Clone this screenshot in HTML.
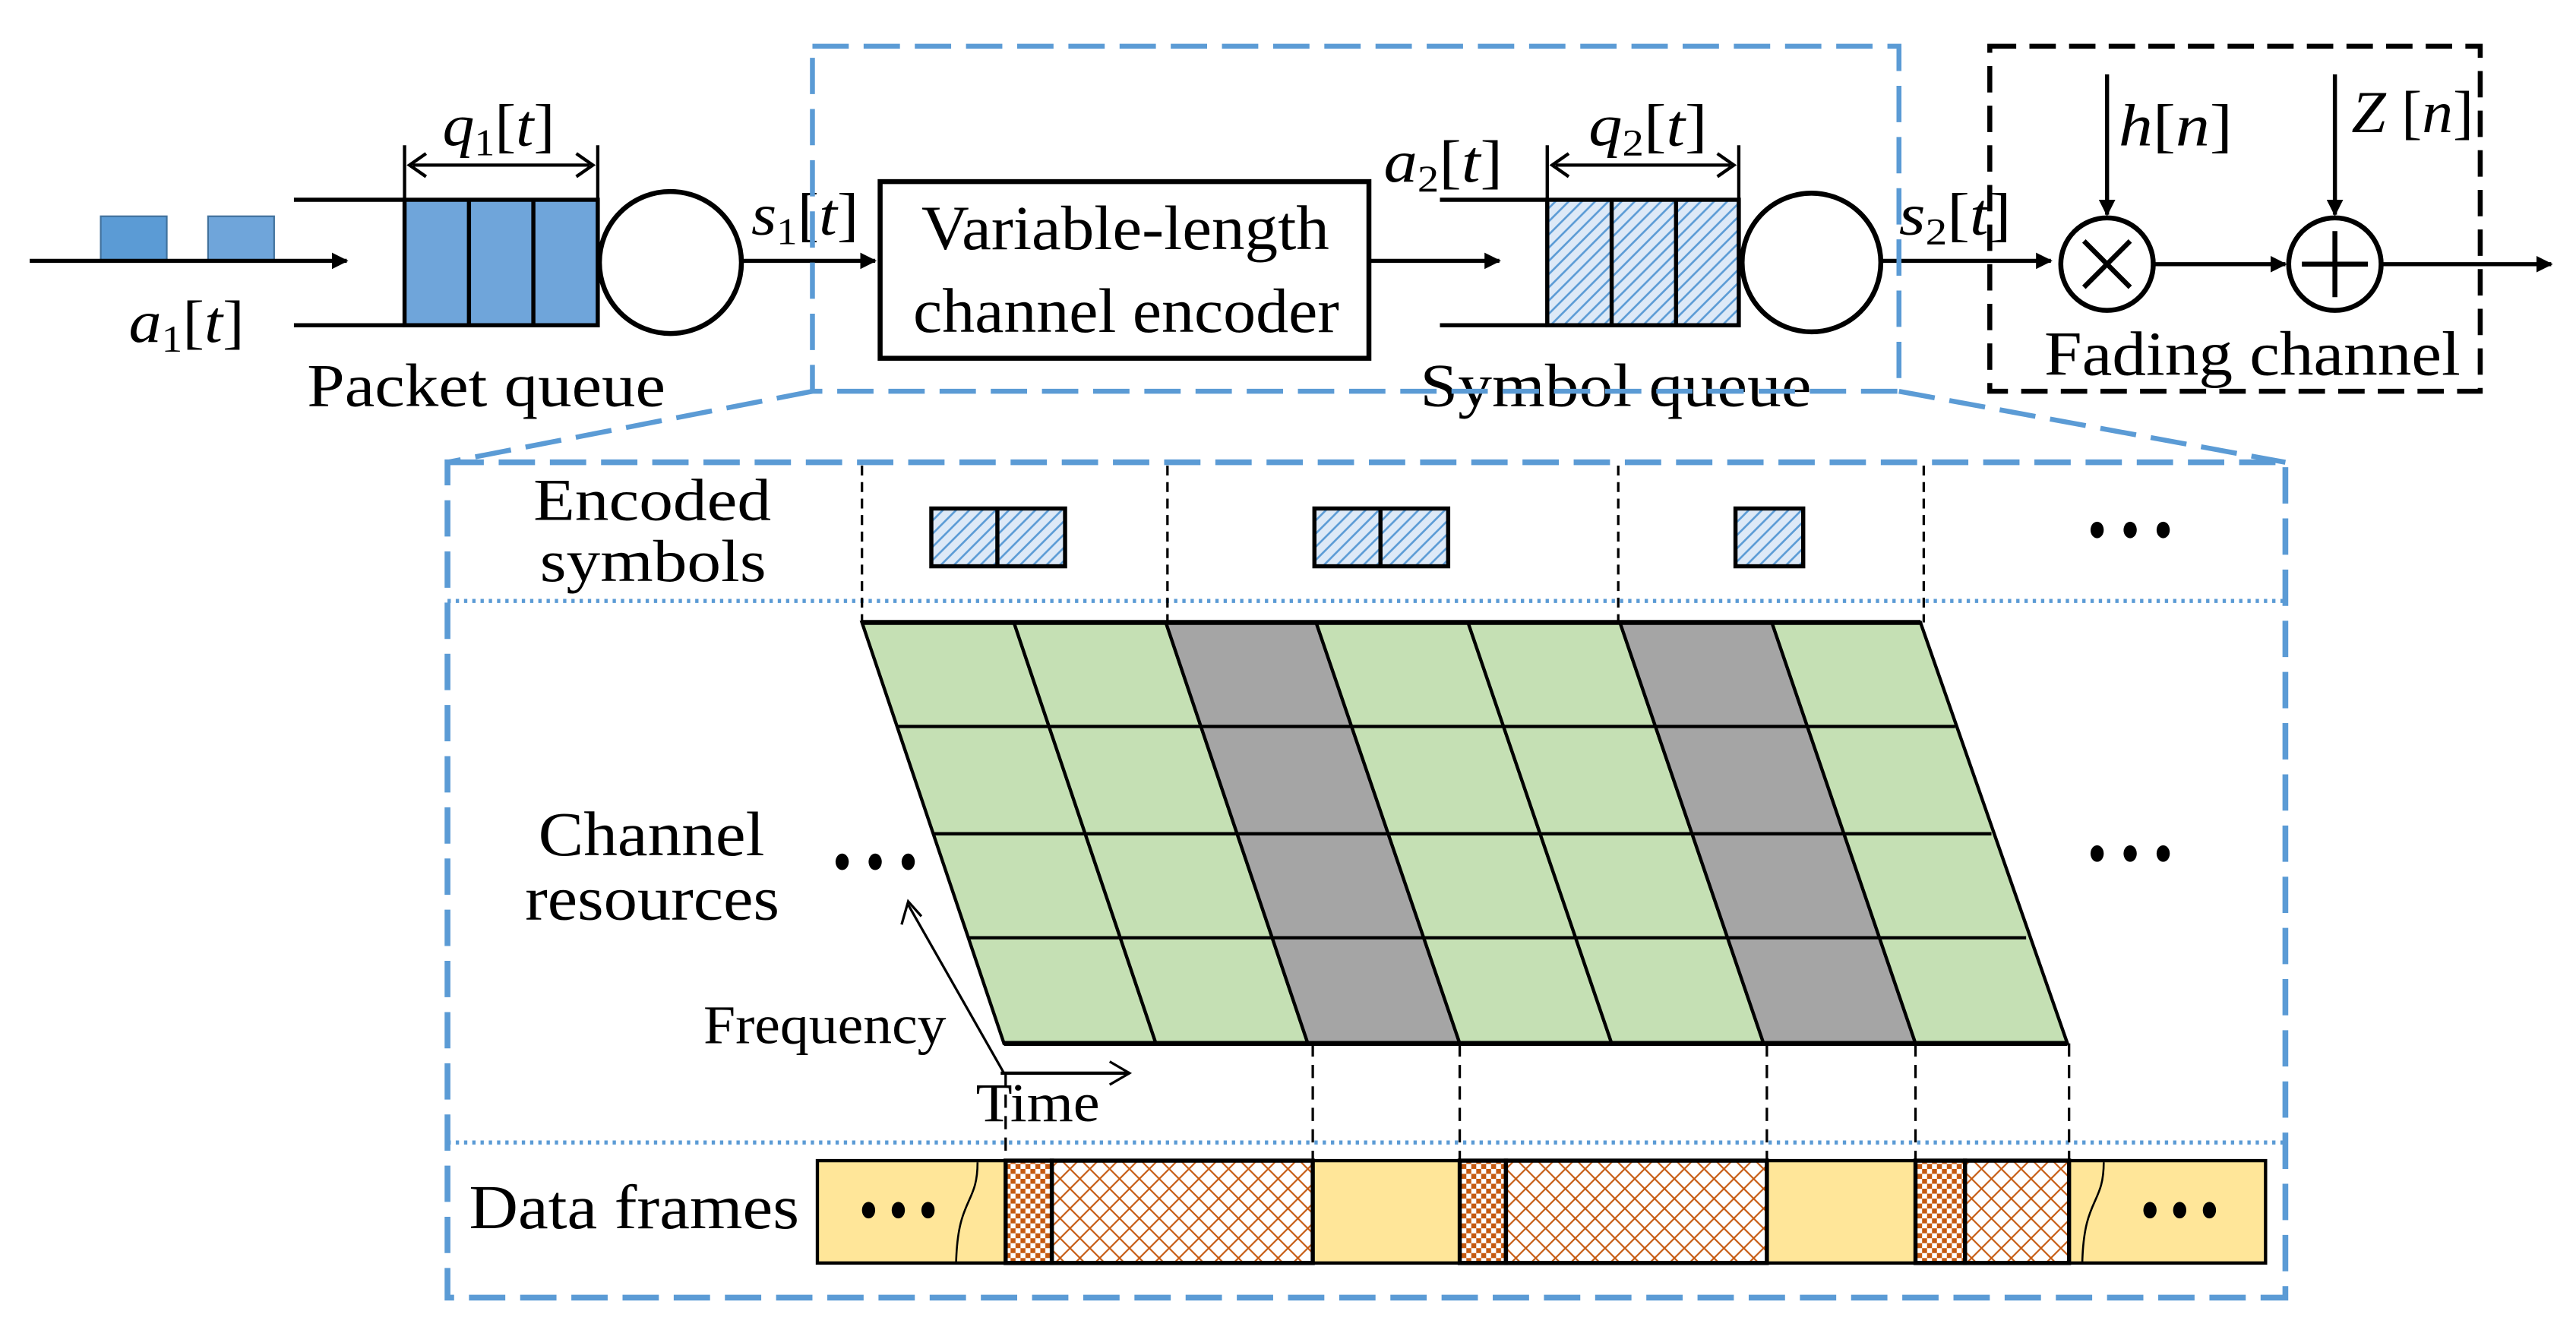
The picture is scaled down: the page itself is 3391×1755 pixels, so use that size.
<!DOCTYPE html>
<html><head><meta charset="utf-8"><style>html,body{margin:0;padding:0;background:#fff}svg{display:block}</style></head><body>
<svg width="3391" height="1755" viewBox="0 0 1560 807.4" preserveAspectRatio="none" xmlns="http://www.w3.org/2000/svg" font-family="Liberation Serif, serif">
<defs>
<pattern id="diag" width="8" height="8" patternUnits="userSpaceOnUse"><rect width="8" height="8" fill="#dde9f7"/><path d="M-2,10 L10,-2 M-2,2 L2,-2 M6,10 L10,6" stroke="#5b9bd5" stroke-width="1.2"/></pattern>
<pattern id="chk" width="6" height="6" patternUnits="userSpaceOnUse"><rect width="6" height="6" fill="#fff"/><rect width="3" height="3" fill="#c55a11"/><rect x="3" y="3" width="3" height="3" fill="#c55a11"/></pattern>
<pattern id="xh" width="12" height="12" patternUnits="userSpaceOnUse"><rect width="12" height="12" fill="#fff"/><path d="M0,0 L12,12 M12,0 L0,12" stroke="#c55a11" stroke-width="1"/></pattern>
<marker id="ar" markerWidth="10" markerHeight="10" refX="9" refY="5" orient="auto" markerUnits="userSpaceOnUse"><path d="M0,0 L10,5 L0,10 z" fill="#000"/></marker>
</defs>
<g>
<rect x="61" y="131" width="40" height="27" fill="#5b9bd5" stroke="#41719c"/>
<rect x="126" y="131" width="40" height="27" fill="#6fa5da" stroke="#41719c"/>
<line x1="18" y1="158" x2="210" y2="158" stroke="#000" stroke-width="2.5" marker-end="url(#ar)"/>
<text x="78" y="207" font-size="36" font-style="italic" textLength="70" lengthAdjust="spacingAndGlyphs">a<tspan font-size="23" dy="6" font-style="normal">1</tspan><tspan dy="-6" font-style="normal">[</tspan>t<tspan font-style="normal">]</tspan></text>
<line x1="178" y1="121" x2="245" y2="121" stroke="#000" stroke-width="2.5"/>
<line x1="178" y1="197" x2="245" y2="197" stroke="#000" stroke-width="2.5"/>
<rect x="245" y="121" width="117" height="76" fill="#6fa5da" stroke="#000" stroke-width="2.5"/>
<line x1="284" y1="121" x2="284" y2="197" stroke="#000" stroke-width="2.5"/>
<line x1="323" y1="121" x2="323" y2="197" stroke="#000" stroke-width="2.5"/>
<line x1="245" y1="88" x2="245" y2="121" stroke="#000" stroke-width="2"/><line x1="362" y1="88" x2="362" y2="121" stroke="#000" stroke-width="2"/>
<line x1="250" y1="100" x2="357" y2="100" stroke="#000" stroke-width="2"/>
<path d="M258,93 L248,100 L258,107 M349,93 L359,100 L349,107" fill="none" stroke="#000" stroke-width="2"/>
<text x="268" y="88" font-size="36" font-style="italic" textLength="68" lengthAdjust="spacingAndGlyphs">q<tspan font-size="23" dy="6" font-style="normal">1</tspan><tspan dy="-6" font-style="normal">[</tspan>t<tspan font-style="normal">]</tspan></text>
<circle cx="406" cy="159" r="43" fill="#fff" stroke="#000" stroke-width="3"/>
<text x="186" y="246" font-size="37" textLength="217" lengthAdjust="spacingAndGlyphs">Packet queue</text>
<text x="455" y="142" font-size="36" font-style="italic" textLength="65" lengthAdjust="spacingAndGlyphs">s<tspan font-size="23" dy="6" font-style="normal">1</tspan><tspan dy="-6" font-style="normal">[</tspan>t<tspan font-style="normal">]</tspan></text>
<line x1="449" y1="158" x2="530" y2="158" stroke="#000" stroke-width="2.5" marker-end="url(#ar)"/>
<rect x="533" y="110" width="296" height="107" fill="#fff" stroke="#000" stroke-width="3"/>
<text x="558" y="151" font-size="38" textLength="247" lengthAdjust="spacingAndGlyphs">Variable-length</text>
<text x="553" y="201" font-size="38" textLength="258" lengthAdjust="spacingAndGlyphs">channel encoder</text>
<line x1="829" y1="158" x2="908" y2="158" stroke="#000" stroke-width="2.5" marker-end="url(#ar)"/>
<text x="838" y="110" font-size="36" font-style="italic" textLength="72" lengthAdjust="spacingAndGlyphs">a<tspan font-size="23" dy="6" font-style="normal">2</tspan><tspan dy="-6" font-style="normal">[</tspan>t<tspan font-style="normal">]</tspan></text>
<line x1="872" y1="121" x2="937" y2="121" stroke="#000" stroke-width="2.5"/>
<line x1="872" y1="197" x2="937" y2="197" stroke="#000" stroke-width="2.5"/>
<rect x="937" y="121" width="116" height="76" fill="url(#diag)" stroke="#000" stroke-width="2.5"/>
<line x1="976" y1="121" x2="976" y2="197" stroke="#000" stroke-width="2.5"/>
<line x1="1015" y1="121" x2="1015" y2="197" stroke="#000" stroke-width="2.5"/>
<line x1="937" y1="88" x2="937" y2="121" stroke="#000" stroke-width="2"/><line x1="1053" y1="88" x2="1053" y2="121" stroke="#000" stroke-width="2"/>
<line x1="942" y1="100" x2="1048" y2="100" stroke="#000" stroke-width="2"/>
<path d="M950,93 L940,100 L950,107 M1040,93 L1050,100 L1040,107" fill="none" stroke="#000" stroke-width="2"/>
<text x="962" y="88" font-size="36" font-style="italic" textLength="72" lengthAdjust="spacingAndGlyphs">q<tspan font-size="23" dy="6" font-style="normal">2</tspan><tspan dy="-6" font-style="normal">[</tspan>t<tspan font-style="normal">]</tspan></text>
<circle cx="1097" cy="159" r="42" fill="#fff" stroke="#000" stroke-width="3"/>
<text x="860" y="246" font-size="37" textLength="237" lengthAdjust="spacingAndGlyphs">Symbol queue</text>
<text x="1150" y="142" font-size="36" font-style="italic" textLength="68" lengthAdjust="spacingAndGlyphs">s<tspan font-size="23" dy="6" font-style="normal">2</tspan><tspan dy="-6" font-style="normal">[</tspan>t<tspan font-style="normal">]</tspan></text>
<line x1="1139" y1="158" x2="1242" y2="158" stroke="#000" stroke-width="2.5" marker-end="url(#ar)"/>
<rect x="1205" y="28" width="297" height="209" fill="none" stroke="#000" stroke-width="3" stroke-dasharray="16,8"/>
<circle cx="1276" cy="160" r="28" fill="#fff" stroke="#000" stroke-width="3"/>
<path d="M1262,146 L1290,174 M1290,146 L1262,174" stroke="#000" stroke-width="3"/>
<circle cx="1414" cy="160" r="28" fill="#fff" stroke="#000" stroke-width="3"/>
<path d="M1414,140 L1414,180 M1394,160 L1434,160" stroke="#000" stroke-width="3"/>
<line x1="1276" y1="45" x2="1276" y2="130" stroke="#000" stroke-width="2.5" marker-end="url(#ar)"/>
<line x1="1414" y1="45" x2="1414" y2="130" stroke="#000" stroke-width="2.5" marker-end="url(#ar)"/>
<line x1="1304" y1="160" x2="1384" y2="160" stroke="#000" stroke-width="2.5" marker-end="url(#ar)"/>
<line x1="1442" y1="160" x2="1545" y2="160" stroke="#000" stroke-width="2.5" marker-end="url(#ar)"/>
<text x="1283" y="88" font-size="36" font-style="italic" textLength="69" lengthAdjust="spacingAndGlyphs">h<tspan font-style="normal">[</tspan>n<tspan font-style="normal">]</tspan></text>
<text x="1424" y="80" font-size="36" font-style="italic" textLength="74" lengthAdjust="spacingAndGlyphs">Z<tspan font-style="normal"> [</tspan>n<tspan font-style="normal">]</tspan></text>
<text x="1238" y="227" font-size="38" textLength="252" lengthAdjust="spacingAndGlyphs">Fading channel</text>
<rect x="492" y="28" width="658" height="209" fill="none" stroke="#5b9bd5" stroke-width="3" stroke-dasharray="22,9"/>
<line x1="492" y1="237" x2="271" y2="280" stroke="#5b9bd5" stroke-width="3" stroke-dasharray="22,9"/>
<line x1="1150" y1="237" x2="1384" y2="280" stroke="#5b9bd5" stroke-width="3" stroke-dasharray="22,9"/>
<rect x="271" y="280" width="1113" height="506" fill="none" stroke="#5b9bd5" stroke-width="3.5" stroke-dasharray="22,9"/>
<line x1="271" y1="364" x2="1384" y2="364" stroke="#5b9bd5" stroke-width="2.5" stroke-dasharray="2,3"/>
<line x1="271" y1="692" x2="1384" y2="692" stroke="#5b9bd5" stroke-width="2.5" stroke-dasharray="2,3"/>
<text x="323" y="315" font-size="36" textLength="144" lengthAdjust="spacingAndGlyphs">Encoded</text>
<text x="327" y="352" font-size="36" textLength="137" lengthAdjust="spacingAndGlyphs">symbols</text>
<g stroke="#000" stroke-width="1.5" stroke-dasharray="6,4">
<line x1="522" y1="282" x2="522" y2="377"/><line x1="707" y1="282" x2="707" y2="377"/><line x1="980" y1="282" x2="980" y2="377"/><line x1="1165" y1="282" x2="1165" y2="377"/>
</g>
<g stroke="#000" stroke-width="2.5">
<rect x="564" y="308" width="81" height="35" fill="url(#diag)"/><line x1="604" y1="308" x2="604" y2="343"/>
<rect x="796" y="308" width="81" height="35" fill="url(#diag)"/><line x1="836" y1="308" x2="836" y2="343"/>
<rect x="1051" y="308" width="41" height="35" fill="url(#diag)"/>
</g>
<g stroke="#000" stroke-width="2">
<polygon points="522,377 614,377 700,632 608,632" fill="#c5e0b4"/>
<polygon points="614,377 706,377 792,632 700,632" fill="#c5e0b4"/>
<polygon points="706,377 797,377 884,632 792,632" fill="#a5a5a5"/>
<polygon points="797,377 889,377 976,632 884,632" fill="#c5e0b4"/>
<polygon points="889,377 981,377 1068,632 976,632" fill="#c5e0b4"/>
<polygon points="981,377 1073,377 1160,632 1068,632" fill="#a5a5a5"/>
<polygon points="1073,377 1163,377 1252,632 1160,632" fill="#c5e0b4"/>
<line x1="543" y1="440" x2="1184" y2="440"/><line x1="565" y1="505" x2="1206" y2="505"/><line x1="586" y1="568" x2="1227" y2="568"/>
<line x1="522" y1="377" x2="1163" y2="377" stroke-width="3"/><line x1="608" y1="632" x2="1252" y2="632" stroke-width="3"/>
</g>
<text x="326" y="518" font-size="38" textLength="137" lengthAdjust="spacingAndGlyphs">Channel</text>
<text x="318" y="557" font-size="38" textLength="154" lengthAdjust="spacingAndGlyphs">resources</text>
<path d="M608,650 L550,548" stroke="#000" stroke-width="1.5" fill="none"/>
<path d="M546,560 L550,546 L558,555" stroke="#000" stroke-width="1.5" fill="none"/>
<path d="M606,650 L684,650" stroke="#000" stroke-width="2" fill="none"/>
<path d="M672,643 L684,650 L672,657" stroke="#000" stroke-width="1.5" fill="none"/>
<text x="426" y="632" font-size="33" textLength="147" lengthAdjust="spacingAndGlyphs">Frequency</text>
<text x="591" y="679" font-size="33" textLength="75" lengthAdjust="spacingAndGlyphs">Time</text>
<g stroke="#000" stroke-width="1.5" stroke-dasharray="8,5">
<line x1="795" y1="632" x2="795" y2="703"/><line x1="884" y1="632" x2="884" y2="703"/><line x1="1070" y1="632" x2="1070" y2="703"/><line x1="1160" y1="632" x2="1160" y2="703"/><line x1="1253" y1="632" x2="1253" y2="703"/><line x1="609" y1="650" x2="609" y2="703"/>
</g>
<text x="284" y="744" font-size="38" textLength="200" lengthAdjust="spacingAndGlyphs">Data frames</text>
<rect x="495" y="703" width="877" height="62" fill="#ffe699" stroke="#000" stroke-width="2"/>
<g stroke="#000" stroke-width="2.5">
<rect x="609" y="703" width="28" height="62" fill="url(#chk)"/><rect x="637" y="703" width="158" height="62" fill="url(#xh)"/>
<rect x="884" y="703" width="28" height="62" fill="url(#chk)"/><rect x="912" y="703" width="158" height="62" fill="url(#xh)"/>
<rect x="1160" y="703" width="30" height="62" fill="url(#chk)"/><rect x="1190" y="703" width="63" height="62" fill="url(#xh)"/>
</g>
<path d="M592,704 C592,730 580,725 579,765" stroke="#000" stroke-width="1.2" fill="none"/>
<path d="M1274,704 C1274,730 1262,725 1261,765" stroke="#000" stroke-width="1.2" fill="none"/>
<g fill="#000">
<ellipse cx="1270" cy="321" rx="4" ry="5"/><ellipse cx="1290" cy="321" rx="4" ry="5"/><ellipse cx="1310" cy="321" rx="4" ry="5"/>
<ellipse cx="510" cy="522" rx="4" ry="5"/><ellipse cx="530" cy="522" rx="4" ry="5"/><ellipse cx="550" cy="522" rx="4" ry="5"/>
<ellipse cx="1270" cy="517" rx="4" ry="5"/><ellipse cx="1290" cy="517" rx="4" ry="5"/><ellipse cx="1310" cy="517" rx="4" ry="5"/>
<ellipse cx="526" cy="733" rx="4" ry="5"/><ellipse cx="544" cy="733" rx="4" ry="5"/><ellipse cx="562" cy="733" rx="4" ry="5"/>
<ellipse cx="1302" cy="733" rx="4" ry="5"/><ellipse cx="1320" cy="733" rx="4" ry="5"/><ellipse cx="1338" cy="733" rx="4" ry="5"/>
</g>
</g>
</svg>
</body></html>
